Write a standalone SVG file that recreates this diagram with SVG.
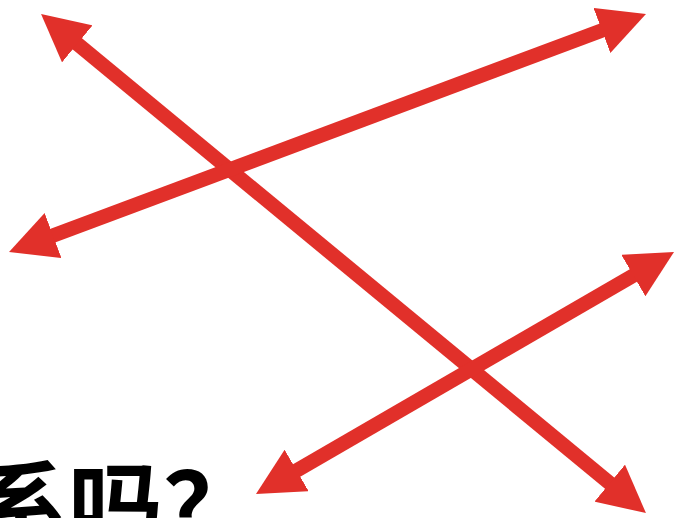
<svg xmlns="http://www.w3.org/2000/svg" width="674" height="518" viewBox="0 0 674 518">
<style>
.arr{stroke:#e1302a;stroke-width:14.5;fill:none;marker-start:url(#head);marker-end:url(#head)}
.lbl{font-family:"Noto Sans CJK SC","Noto Sans CJK JP",sans-serif;font-weight:bold;font-size:95px;fill:#000}
</style>
<defs>
<marker id="head" markerUnits="userSpaceOnUse" viewBox="0 0 47 48" markerWidth="47" markerHeight="48" refX="7" refY="24" orient="auto-start-reverse">
<path d="M0,0 L47,24 L0,48 z" fill="#e1302a"/>
</marker>
</defs>
<rect width="674" height="518" fill="#fff"/>
<g id="caption"><text class="lbl" x="-27" y="542">系吗？</text></g>
<g id="connectors">
<line class="arr" x1="71.9" y1="39.4" x2="615.1" y2="487.6"/>
<line class="arr" x1="46.5" y1="238" x2="608.5" y2="28"/>
<line class="arr" x1="290.6" y1="474" x2="639.4" y2="272"/>
</g>
</svg>
